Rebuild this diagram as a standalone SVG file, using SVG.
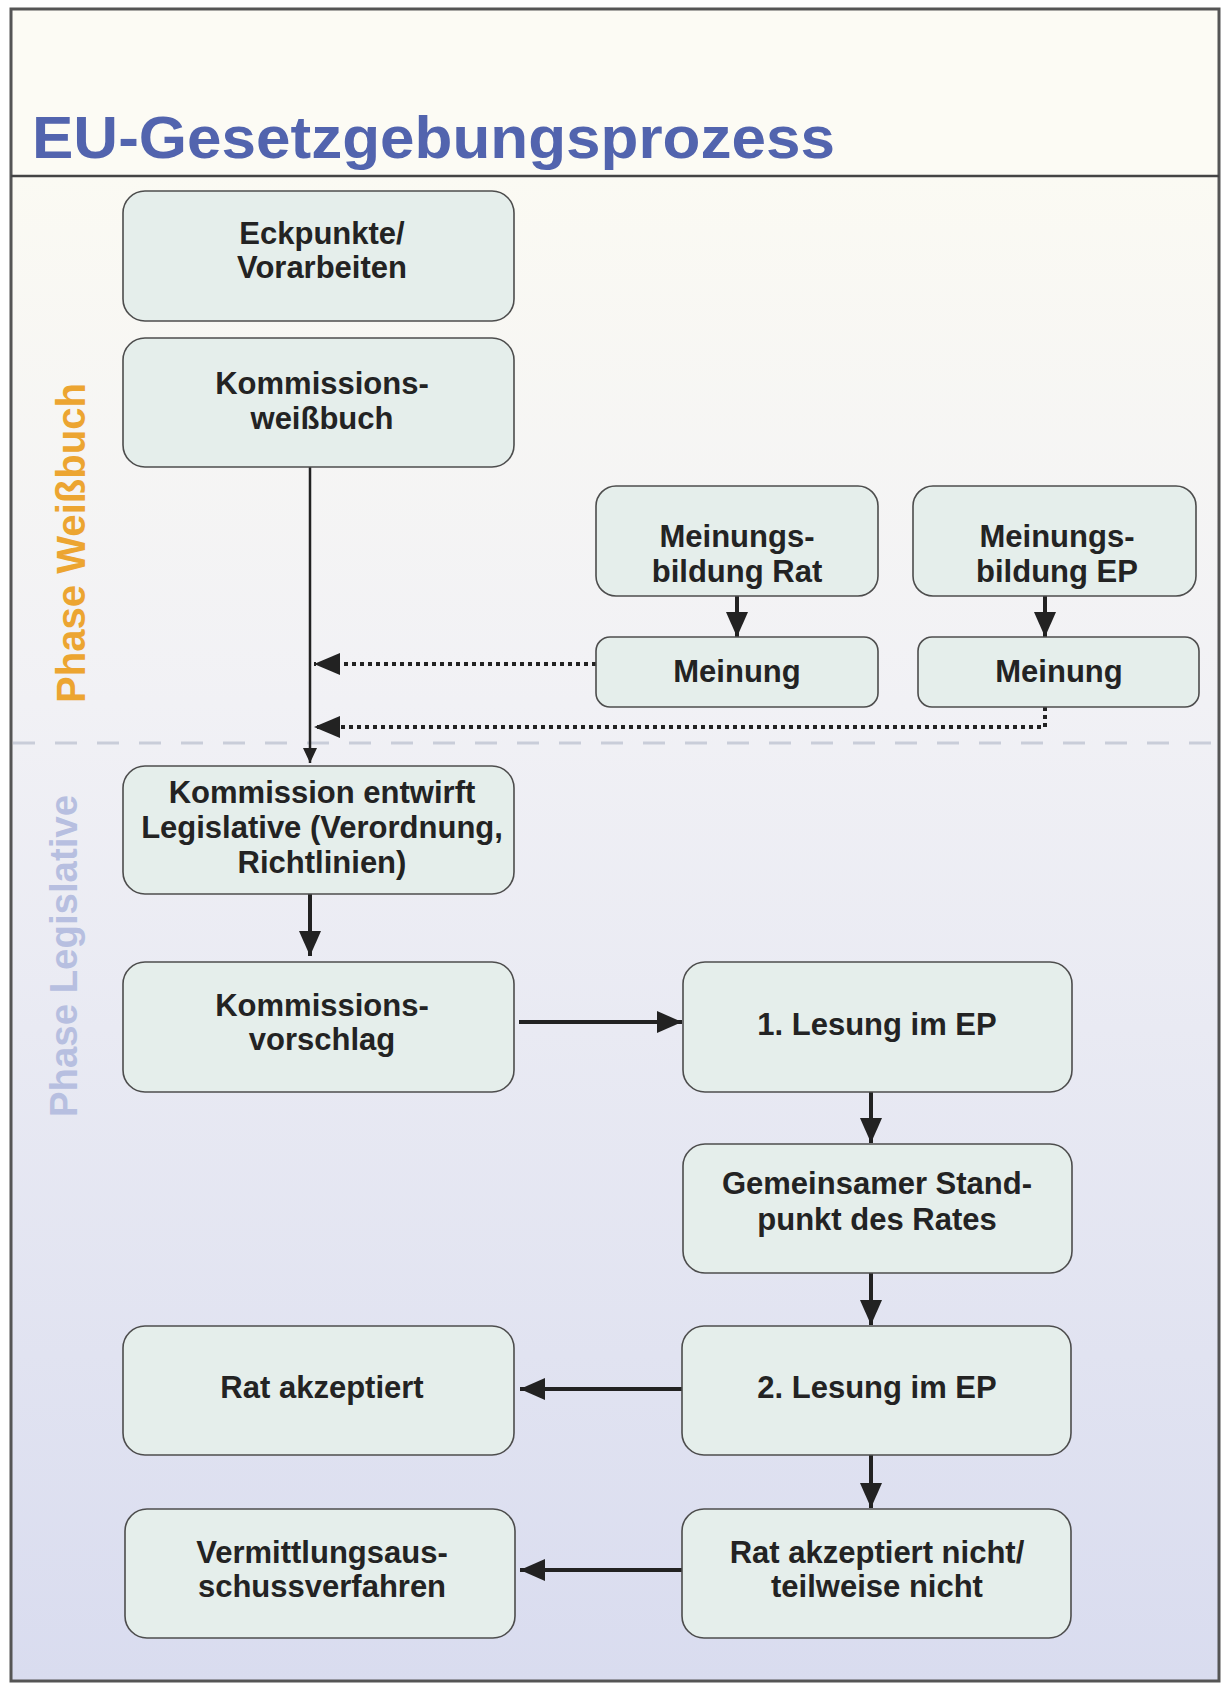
<svg xmlns="http://www.w3.org/2000/svg" width="1223" height="1683" viewBox="0 0 1223 1683">
<style>
.box{fill:#e5eeeb;stroke:#4d4d4d;stroke-width:1.6}
.t{font-family:"Liberation Sans",Arial,sans-serif;font-weight:bold;font-size:31px;fill:#232323;text-anchor:middle}
.c{fill:none;stroke:#222;stroke-width:4}
.d{fill:none;stroke:#222;stroke-width:4;stroke-dasharray:4 4}
.phase{font-family:"Liberation Sans",Arial,sans-serif;font-weight:bold;text-anchor:middle}
</style>
<defs>
<linearGradient id="bg" x1="0" y1="0" x2="0" y2="1">
<stop offset="0" stop-color="#fbfaf3"/>
<stop offset="0.35" stop-color="#f1f1f5"/>
<stop offset="1" stop-color="#d9dcef"/>
</linearGradient>
<marker id="ah" markerUnits="userSpaceOnUse" viewBox="0 0 25 22" refX="25" refY="11" markerWidth="25" markerHeight="22" orient="auto">
<path d="M0,0 L25,11 L0,22 z" fill="#222"/>
</marker>
<marker id="ahs" markerUnits="userSpaceOnUse" viewBox="0 0 15 14" refX="15" refY="7" markerWidth="15" markerHeight="14" orient="auto">
<path d="M0,0 L15,7 L0,14 z" fill="#222"/>
</marker>
<marker id="ahd" markerUnits="userSpaceOnUse" viewBox="0 0 26 22" refX="26" refY="11" markerWidth="26" markerHeight="22" orient="auto">
<path d="M0,0 L26,11 L0,22 z" fill="#222"/>
</marker>
</defs>
<rect x="0" y="0" width="1223" height="1683" fill="#ffffff"/>
<rect x="11" y="9" width="1208" height="167" fill="#fcfbf4"/>
<rect x="11" y="176" width="1208" height="1505" fill="url(#bg)"/>
<rect x="11" y="9" width="1208" height="1672" fill="none" stroke="#555" stroke-width="3"/>
<line x1="11" y1="176" x2="1219" y2="176" stroke="#444" stroke-width="2.5"/>
<text x="32" y="158" font-family="'Liberation Sans',Arial,sans-serif" font-weight="bold" font-size="60" fill="#5264ae" textLength="803" lengthAdjust="spacingAndGlyphs">EU-Gesetzgebungsprozess</text>
<line x1="13" y1="743" x2="1217" y2="743" stroke="#c9cdd9" stroke-width="3" stroke-dasharray="22 20"/>
<text class="phase" transform="translate(85,543) rotate(-90)" font-size="40" fill="#eca531" textLength="320" lengthAdjust="spacingAndGlyphs">Phase Weißbuch</text>
<text class="phase" transform="translate(77,956) rotate(-90)" font-size="39" fill="#b7bfe0" textLength="322" lengthAdjust="spacingAndGlyphs">Phase Legislative</text>
<g id="connectors">
<path class="c" style="stroke-width:2.5" d="M310,467 V763" marker-end="url(#ahs)"/>
<path class="d" d="M596,664 H314" marker-end="url(#ahd)"/>
<path class="d" d="M1045,707 V727 H314" marker-end="url(#ahd)"/>
<path class="c" d="M737,596 V637" marker-end="url(#ah)"/>
<path class="c" d="M1045,596 V637" marker-end="url(#ah)"/>
<path class="c" d="M310,894 V956" marker-end="url(#ah)"/>
<path class="c" d="M519,1022 H682" marker-end="url(#ah)"/>
<path class="c" d="M871,1092 V1143" marker-end="url(#ah)"/>
<path class="c" d="M871,1273 V1325" marker-end="url(#ah)"/>
<path class="c" d="M682,1389 H520" marker-end="url(#ah)"/>
<path class="c" d="M871,1455 V1508" marker-end="url(#ah)"/>
<path class="c" d="M682,1570 H520" marker-end="url(#ah)"/>
</g>
<g id="n1"><rect class="box" x="123" y="191" width="391" height="130" rx="22"/><text class="t" x="322" y="244">Eckpunkte/</text><text class="t" x="322" y="278">Vorarbeiten</text></g>
<g id="n2"><rect class="box" x="123" y="338" width="391" height="129" rx="22"/><text class="t" x="322" y="394">Kommissions-</text><text class="t" x="322" y="429">weißbuch</text></g>
<g id="n3"><rect class="box" x="596" y="486" width="282" height="110" rx="20"/><text class="t" x="737" y="547">Meinungs-</text><text class="t" x="737" y="582">bildung Rat</text></g>
<g id="n4"><rect class="box" x="596" y="637" width="282" height="70" rx="14"/><text class="t" x="737" y="682">Meinung</text></g>
<g id="n5"><rect class="box" x="913" y="486" width="283" height="110" rx="20"/><text class="t" x="1057" y="547">Meinungs-</text><text class="t" x="1057" y="582">bildung EP</text></g>
<g id="n6"><rect class="box" x="918" y="637" width="281" height="70" rx="14"/><text class="t" x="1059" y="682">Meinung</text></g>
<g id="n7"><rect class="box" x="123" y="766" width="391" height="128" rx="22"/><text class="t" x="322" y="803">Kommission entwirft</text><text class="t" x="322" y="838">Legislative (Verordnung,</text><text class="t" x="322" y="873">Richtlinien)</text></g>
<g id="n8"><rect class="box" x="123" y="962" width="391" height="130" rx="22"/><text class="t" x="322" y="1016">Kommissions-</text><text class="t" x="322" y="1050">vorschlag</text></g>
<g id="n9"><rect class="box" x="683" y="962" width="389" height="130" rx="22"/><text class="t" x="877" y="1035">1. Lesung im EP</text></g>
<g id="n10"><rect class="box" x="683" y="1144" width="389" height="129" rx="22"/><text class="t" x="877" y="1194">Gemeinsamer Stand-</text><text class="t" x="877" y="1230">punkt des Rates</text></g>
<g id="n11"><rect class="box" x="682" y="1326" width="389" height="129" rx="22"/><text class="t" x="877" y="1398">2. Lesung im EP</text></g>
<g id="n12"><rect class="box" x="123" y="1326" width="391" height="129" rx="22"/><text class="t" x="322" y="1398">Rat akzeptiert</text></g>
<g id="n13"><rect class="box" x="682" y="1509" width="389" height="129" rx="22"/><text class="t" x="877" y="1563">Rat akzeptiert nicht/</text><text class="t" x="877" y="1597">teilweise nicht</text></g>
<g id="n14"><rect class="box" x="125" y="1509" width="390" height="129" rx="22"/><text class="t" x="322" y="1563">Vermittlungsaus-</text><text class="t" x="322" y="1597">schussverfahren</text></g>
</svg>
